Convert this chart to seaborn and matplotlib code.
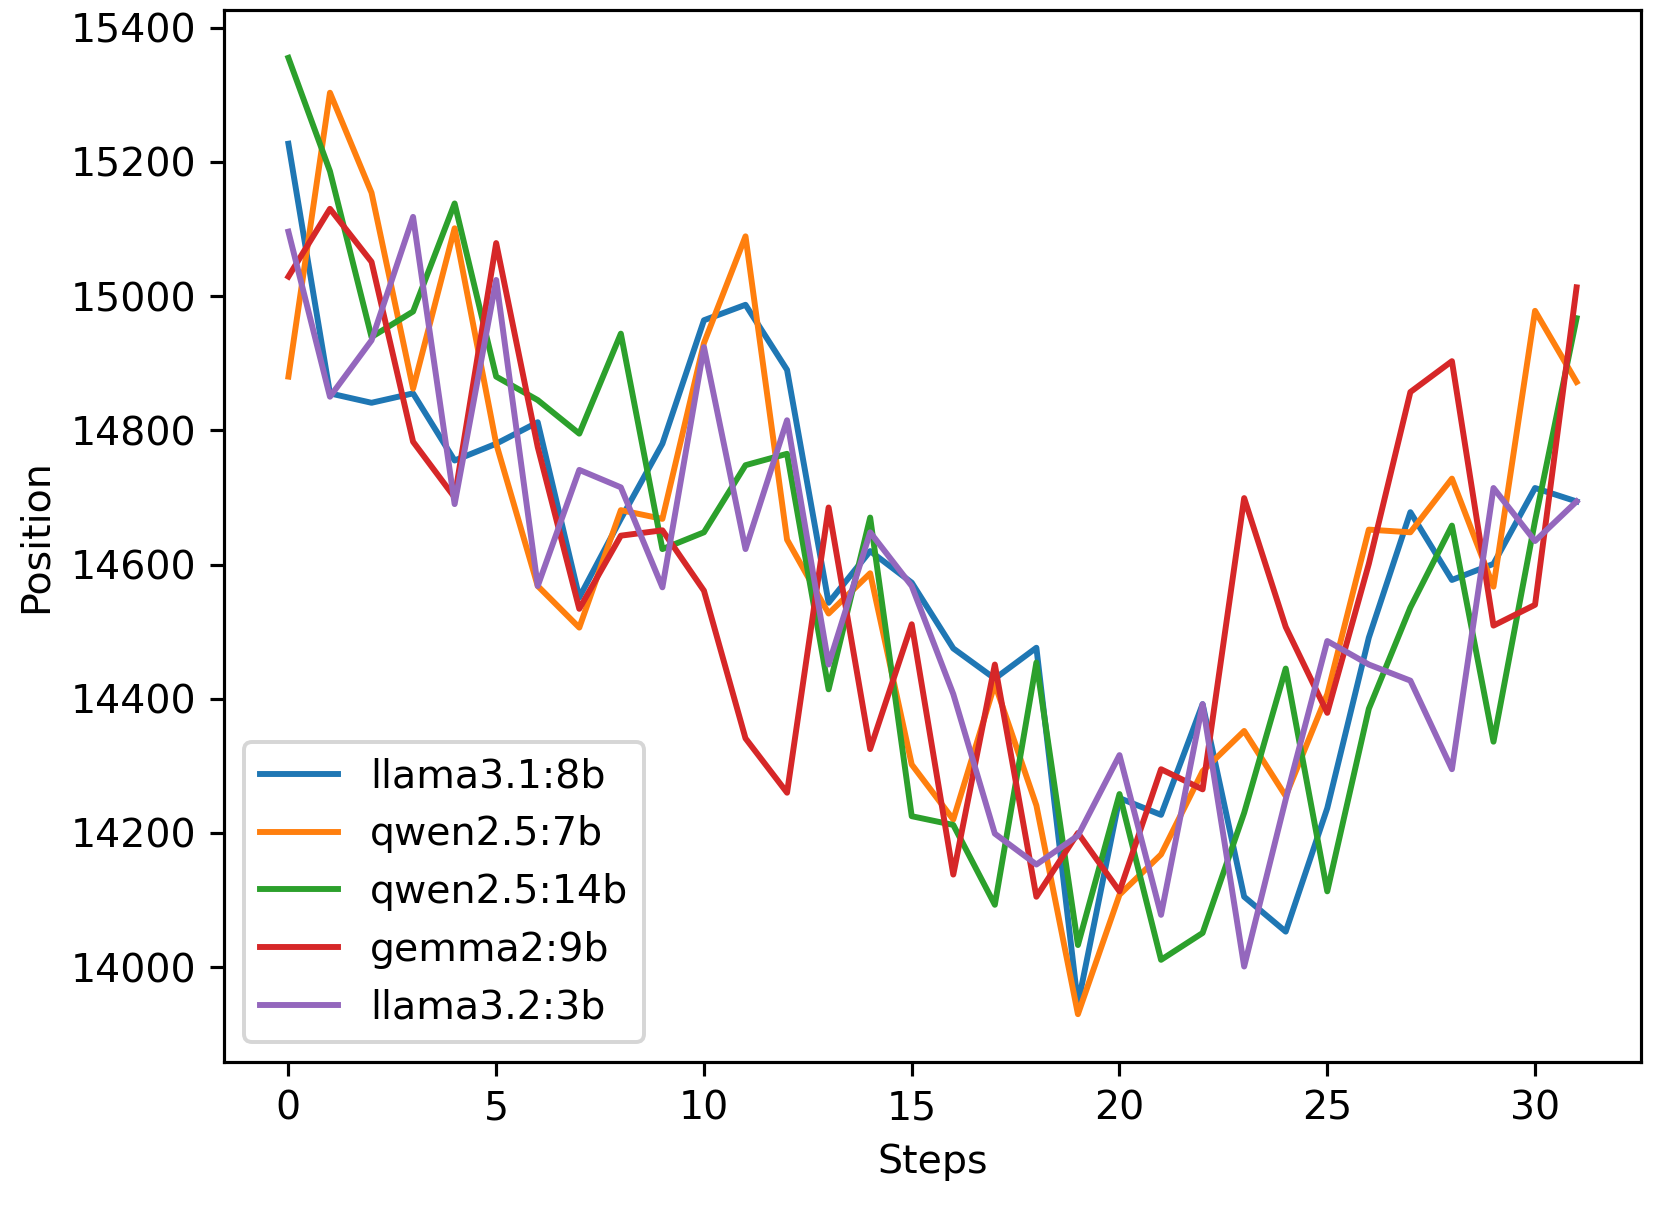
import numpy as np
import pandas as pd
import seaborn as sns
import matplotlib
matplotlib.use("Agg")
import matplotlib.pyplot as plt

# values
steps = list(range(32))

llama31_8b = [15227, 14855, 14841, 14855, 14755, 14780, 14812, 14551, 14668, 14780,
              14964, 14987, 14890, 14543, 14620, 14573, 14475, 14430, 14476, 13945,
              14252, 14227, 14392, 14105, 14053, 14237, 14491, 14678, 14577, 14601,
              14714, 14694]
qwen25_7b = [14880, 15303, 15154, 14862, 15101, 14780, 14568, 14506, 14681, 14668,
             14930, 15089, 14637, 14527, 14587, 14302, 14220, 14422, 14241, 13930,
             14108, 14168, 14292, 14352, 14255, 14407, 14652, 14648, 14728, 14567,
             14978, 14872]
qwen25_14b = [15355, 15186, 14939, 14977, 15138, 14880, 14845, 14795, 14944, 14623,
              14648, 14748, 14765, 14414, 14670, 14225, 14212, 14093, 14454, 14033,
              14258, 14011, 14051, 14230, 14445, 14113, 14385, 14536, 14658, 14336,
              14665, 14967]
gemma2_9b = [15029, 15130, 15051, 14783, 14700, 15079, 14775, 14534, 14643, 14651,
             14561, 14341, 14260, 14685, 14325, 14511, 14138, 14451, 14105, 14200,
             14113, 14295, 14265, 14699, 14507, 14379, 14601, 14857, 14903, 14509,
             14540, 15013]
llama32_3b = [15096, 14850, 14934, 15118, 14690, 15024, 14568, 14741, 14715, 14566,
              14924, 14623, 14815, 14451, 14648, 14568, 14407, 14199, 14153, 14196,
              14316, 14078, 14392, 14001, 14250, 14486, 14451, 14427, 14295, 14714,
              14635, 14694]

model_names = ["llama3.1:8b", "qwen2.5:7b", "qwen2.5:14b", "gemma2:9b", "llama3.2:3b"]
series = [llama31_8b, qwen25_7b, qwen25_14b, gemma2_9b, llama32_3b]

dpi = 284
fig = plt.figure(figsize=(1660 / dpi, 1212 / dpi), dpi=dpi)
ax = fig.add_axes([224 / 1660, 1 - 1062 / 1212, 1417 / 1660, 1052 / 1212])

palette = sns.color_palette("tab10", len(model_names))
for name, values, color in zip(model_names, series, palette):
    df = pd.DataFrame({"Steps": steps, "Position": values})
    sns.lineplot(data=df, x="Steps", y="Position", label=name, color=color,
                 linewidth=1.5, ax=ax)

ax.set_xlabel("Steps")
ax.set_ylabel("Position")
ax.legend(loc="lower left")

fig.savefig("out.png", dpi=dpi)
